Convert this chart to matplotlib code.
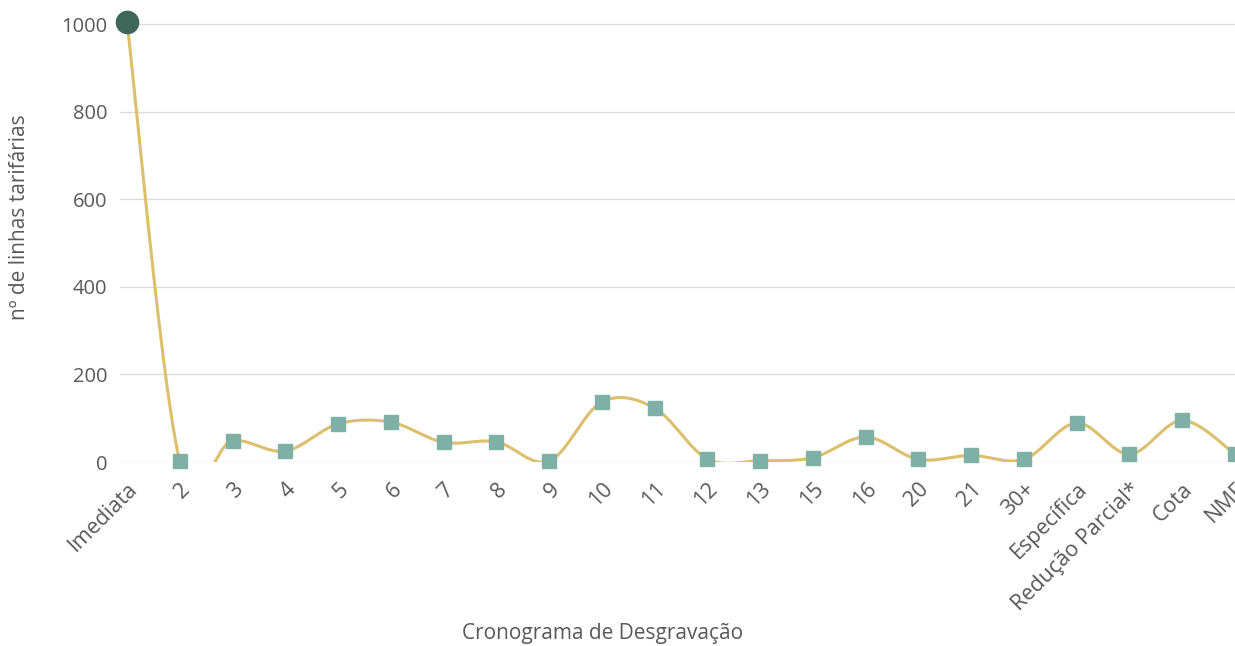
import numpy as np
import matplotlib
matplotlib.use("Agg")
import matplotlib.pyplot as plt

# categories and values
categorias = ["Imediata", "2", "3", "4", "5", "6", "7", "8", "9", "10", "11",
              "12", "13", "15", "16", "20", "21", "30+", "Específica",
              "Redução Parcial*", "Cota", "NMF"]
linhas = [1005, 2, 49, 25, 87, 91, 45, 46, 2, 137, 123,
          7, 3, 10, 57, 6, 15, 6, 89, 18, 95, 18]

plt.rcParams['font.family'] = ['Open Sans', 'DejaVu Sans']


# smoothed line like a spreadsheet chart (Bezier through the points)
def smooth(x, y, steps=40):
    px = np.concatenate([[x[0]], x, [x[-1]]]).astype(float)
    py = np.concatenate([[y[0]], y, [y[-1]]]).astype(float)
    t = np.linspace(0, 1, steps)
    xs, ys = [], []
    for i in range(len(y) - 1):
        out = []
        for p in (px, py):
            p0, p1, p2, p3 = p[i], p[i + 1], p[i + 2], p[i + 3]
            c1 = p1 + (p2 - p0) / 6
            c2 = p2 - (p3 - p1) / 6
            out.append((1 - t) ** 3 * p1 + 3 * (1 - t) ** 2 * t * c1
                       + 3 * (1 - t) * t ** 2 * c2 + t ** 3 * p2)
        xs.append(out[0])
        ys.append(out[1])
    return np.concatenate(xs), np.concatenate(ys)


x = np.arange(len(categorias))
sx, sy = smooth(x, np.array(linhas))

txt = '#595959'
fig = plt.figure(figsize=(12.35, 6.46), dpi=100)
ax = fig.add_axes([120 / 1235, (646 - 462) / 646, (1235 - 120) / 1235, (462 - 10) / 646])

ax.plot(sx, sy, color='#dcbf6c', linewidth=2.2, zorder=2)
ax.plot(x[1:], linhas[1:], linestyle='none', marker='s', markersize=10,
        color='#7fb0a6', zorder=3, clip_on=False)
ax.plot(x[:1], linhas[:1], linestyle='none', marker='o', markersize=16,
        color='#3e6659', zorder=4, clip_on=False)

ax.set_xlim(-7 / 52.8, 21)
ax.set_ylim(0, (462 - 10) / 0.438)
ax.set_yticks([0, 200, 400, 600, 800, 1000])
ax.set_xticks(x)
ax.set_xticklabels(categorias, rotation=45, ha='right', rotation_mode='anchor',
                   fontsize=15.5)
ax.tick_params(axis='both', length=0, labelcolor=txt)
ax.tick_params(axis='y', labelsize=14.5, pad=9)
ax.tick_params(axis='x', pad=12)
ax.grid(axis='y', color='#d9d9d9', linewidth=0.9)
ax.set_axisbelow(True)
for s in ax.spines.values():
    s.set_visible(False)

fig.text(20 / 1235, 1 - 217 / 646, 'nº de linhas tarifárias', fontsize=15,
         color=txt, rotation=90, ha='center', va='center')
fig.text(603 / 1235, 1 - 633 / 646, 'Cronograma de Desgravação', fontsize=15,
         color=txt, ha='center', va='center')

fig.savefig('out.png', dpi=100)
